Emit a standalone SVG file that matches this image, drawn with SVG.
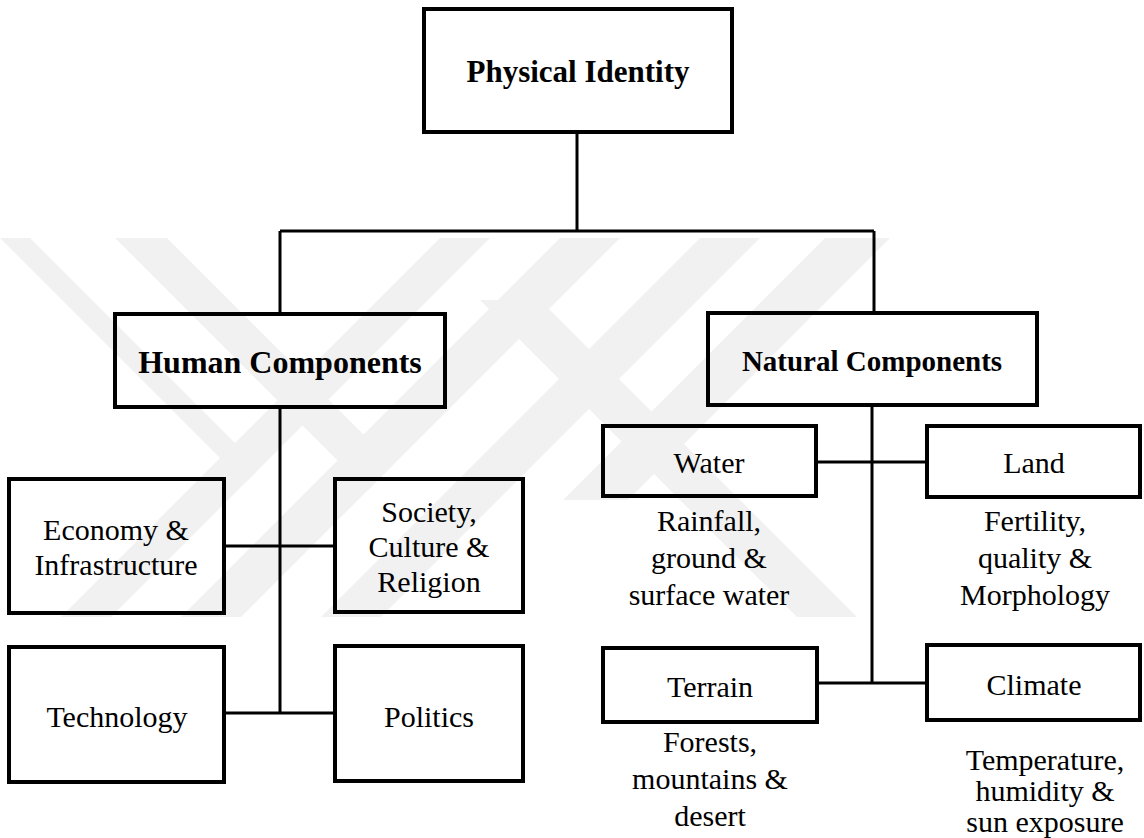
<svg xmlns="http://www.w3.org/2000/svg" width="1144" height="838" viewBox="0 0 1144 838">
<style>
.box{fill:none;stroke:#000;stroke-width:4}
.wm{fill:#f1f1f1}
.ln{stroke:#000;stroke-width:3;fill:none}
.b{font-family:"Liberation Serif","Times New Roman",serif;font-weight:bold;text-anchor:middle;fill:#000}
.r{font-family:"Liberation Serif","Times New Roman",serif;font-size:30px;text-anchor:middle;fill:#000}
</style>
<rect width="1144" height="838" fill="#fff"/>
<g id="watermark">
<polygon class="wm" points="0,238 30,238 260,468 245,483 0,238"/>
<polygon class="wm" points="115,238 167,238 393.5,464.5 367.5,490.5"/>
<polygon class="wm" points="440,238 490,238 111,617 61,617"/>
<polygon class="wm" points="560,238 620,238 241,617 181,617"/>
<polygon class="wm" points="700,238 760,238 381,617 321,617"/>
<polygon class="wm" points="825,238 890,238 628,500 563,500"/>
<polygon class="wm" points="480,300 540,300 857,617 797,617"/>
</g>
<g id="connectors">
<path class="ln" d="M577,132 V231 M280,231 H874 M280,231 V314 M874,231 V313"/>
<path class="ln" d="M280,407 V713 M224,546 H335 M224,713 H335"/>
<path class="ln" d="M872,405 V683 M816,462 H927 M817,683 H927"/>
</g>
<g id="physical">
<rect class="box" x="424" y="9" width="308" height="123"/>
<text class="b" x="578" y="82" font-size="31">Physical Identity</text>
</g>
<g id="human">
<rect class="box" x="115" y="314" width="330" height="93"/>
<text class="b" x="280" y="373" font-size="32">Human Components</text>
</g>
<g id="natural">
<rect class="box" x="708" y="313" width="329" height="92"/>
<text class="b" x="872" y="371" font-size="29">Natural Components</text>
</g>
<g id="economy">
<rect class="box" x="9" y="479" width="215" height="134"/>
<text class="r" x="116" y="540">Economy &amp;</text>
<text class="r" x="116" y="575">Infrastructure</text>
</g>
<g id="society">
<rect class="box" x="335" y="479" width="188" height="133"/>
<text class="r" x="429" y="522">Society,</text>
<text class="r" x="429" y="557">Culture &amp;</text>
<text class="r" x="429" y="592">Religion</text>
</g>
<g id="technology">
<rect class="box" x="9" y="647" width="215" height="135"/>
<text class="r" x="117" y="727" font-size="31">Technology</text>
</g>
<g id="politics">
<rect class="box" x="335" y="646" width="188" height="135"/>
<text class="r" x="429" y="727" font-size="31">Politics</text>
</g>
<g id="water">
<rect class="box" x="603" y="426" width="213" height="70"/>
<text class="r" x="709" y="473" font-size="31">Water</text>
<text class="r" x="709" y="531">Rainfall,</text>
<text class="r" x="709" y="568">ground &amp;</text>
<text class="r" x="709" y="605">surface water</text>
</g>
<g id="land">
<rect class="box" x="927" y="426" width="213" height="71"/>
<text class="r" x="1034" y="473" font-size="31">Land</text>
<text class="r" x="1035" y="531">Fertility,</text>
<text class="r" x="1035" y="568">quality &amp;</text>
<text class="r" x="1035" y="605">Morphology</text>
</g>
<g id="terrain">
<rect class="box" x="603" y="648" width="214" height="74"/>
<text class="r" x="710" y="697" font-size="31">Terrain</text>
<text class="r" x="710" y="752" font-size="29">Forests,</text>
<text class="r" x="710" y="789" font-size="29">mountains &amp;</text>
<text class="r" x="710" y="826" font-size="29">desert</text>
</g>
<g id="climate">
<rect class="box" x="927" y="645" width="213" height="75"/>
<text class="r" x="1034" y="695" font-size="31">Climate</text>
<text class="r" x="1045" y="770" font-size="27">Temperature,</text>
<text class="r" x="1045" y="801" font-size="27">humidity &amp;</text>
<text class="r" x="1045" y="832" font-size="27">sun exposure</text>
</g>
</svg>
